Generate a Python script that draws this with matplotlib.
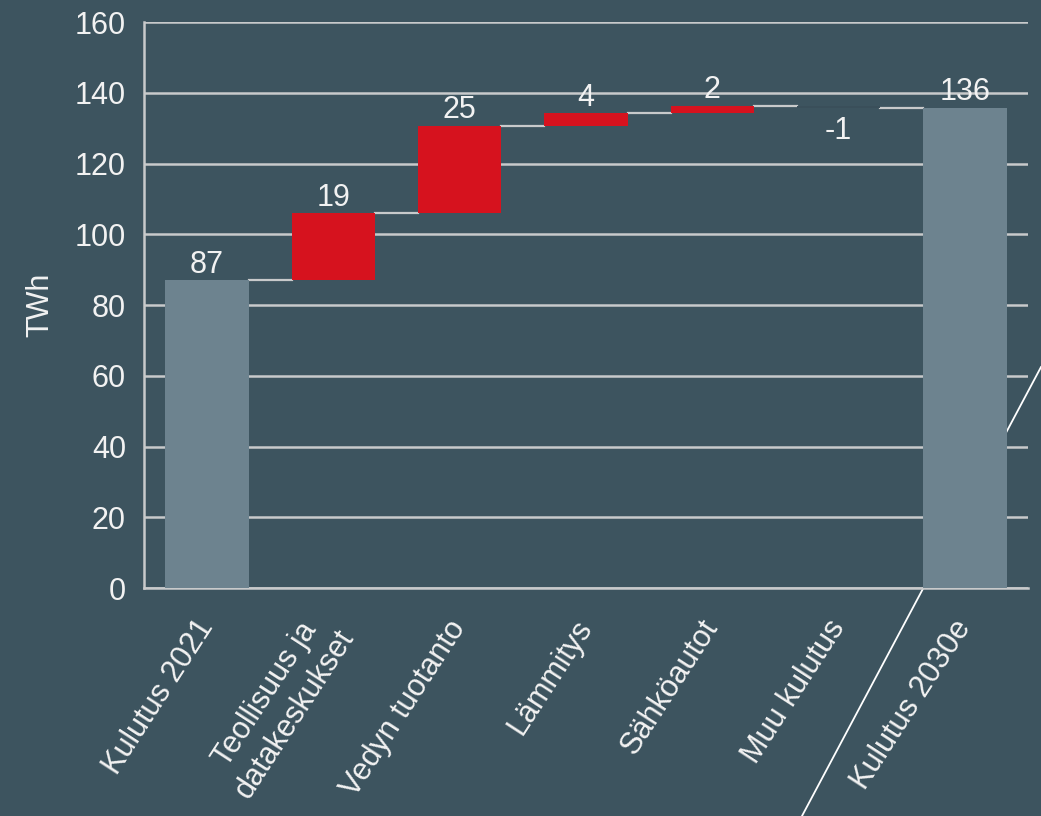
import matplotlib.pyplot as plt
from matplotlib.lines import Line2D

plt.rcParams['font.family'] = ['Liberation Sans', 'DejaVu Sans']

# data (TWh)
categories = ['Kulutus 2021', 'Teollisuus ja\ndatakeskukset', 'Vedyn tuotanto',
              'Lämmitys', 'Sähköautot', 'Muu kulutus', 'Kulutus 2030e']
start_value = 87
changes = [18.9, 24.7, 3.6, 2.2, -0.6]
end_value = 87 + sum(changes)

bg = '#3d545f'
grey_bar = '#6d838f'
red = '#d6121e'
neg_color = '#3a4f5a'
light = '#c8cacb'
txt = '#f2f2f2'
fs = 22

fig = plt.figure(figsize=(10.41, 8.16), dpi=100, facecolor=bg)
ax = fig.add_axes([0.1383, 0.2794, 0.8492, 0.6936])
ax.patch.set_visible(False)

# decorative diagonal line behind the axes
fig.add_artist(Line2D([1.0, 0.7704], [0.5502, 0.0], transform=fig.transFigure,
                      color='white', lw=1.3, zorder=-1))

width = 0.66
x = list(range(len(categories)))

# bottoms and heights for the waterfall
bottoms = [0]
heights = [start_value]
colors = [grey_bar]
level = start_value
for c in changes:
    if c >= 0:
        bottoms.append(level)
        heights.append(c)
        colors.append(red)
    else:
        bottoms.append(level + c)
        heights.append(-c)
        colors.append(neg_color)
    level += c
bottoms.append(0)
heights.append(end_value)
colors.append(grey_bar)

ax.bar(x, heights, bottom=bottoms, width=width, color=colors, zorder=3)

# connector lines between bars
levels = [start_value]
for c in changes:
    levels.append(levels[-1] + c)
for i, lv in enumerate(levels):
    ax.plot([i + width / 2, i + 1 - width / 2], [lv, lv], color=light, lw=1.6, zorder=2)

# value labels
labels = [start_value] + changes + [end_value]
for i, v in enumerate(labels):
    s = '%.0f' % v
    if i not in (0, len(labels) - 1) and v < 0:
        ax.annotate(s, (i, bottoms[i]), xytext=(0, -6), textcoords='offset points',
                    ha='center', va='top', color=txt, fontsize=fs)
    else:
        ax.annotate(s, (i, bottoms[i] + heights[i]), xytext=(0, 0.5), textcoords='offset points',
                    ha='center', va='bottom', color=txt, fontsize=fs)

ax.set_xlim(-0.5, len(categories) - 0.5)
ax.set_ylim(0, 160)
ax.set_yticks(range(0, 161, 20))
ax.grid(axis='y', color=light, lw=1.8, zorder=1)
ax.set_axisbelow(True)

ax.set_xticks(x)
ax.set_xticklabels(categories, rotation=57, ha='right', va='center',
                   rotation_mode='anchor', multialignment='center')
ax.tick_params(axis='x', length=0, pad=25, labelsize=fs, labelcolor=txt)
ax.tick_params(axis='y', length=0, pad=13, labelsize=fs, labelcolor=txt)

ax.set_ylabel('TWh', color=txt, fontsize=fs, labelpad=14)

for side in ['top', 'right']:
    ax.spines[side].set_visible(False)
for side in ['left', 'bottom']:
    ax.spines[side].set_color(light)
    ax.spines[side].set_linewidth(1.8)

plt.savefig('out.png', dpi=100, facecolor=bg)
